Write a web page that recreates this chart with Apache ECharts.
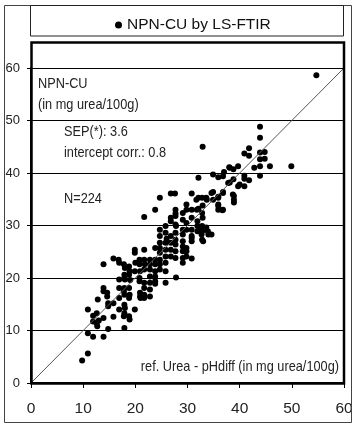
<!DOCTYPE html>
<html>
<head>
<meta charset="utf-8">
<script src="https://cdn.jsdelivr.net/npm/echarts@6/dist/echarts.min.js"></script>
<style>
html,body{margin:0;padding:0;background:#fff;}
#c{width:357px;height:430px;}
</style>
</head>
<body>
<div id="c"></div>
<script>
// ---- data ----
const seriesName = 'NPN-CU by LS-FTIR';
const xTickValues = [0, 10, 20, 30, 40, 50, 60];
const yTickValues = [0, 10, 20, 30, 40, 50, 60];
const identityLine = [[0, 0], [60, 60]];

// reference: Urea - pHdiff (mg urea/100g)
const refUrea = [
  9.8,10.9,10.9,10.9,11.9,11.9,11.9,12.8,12.6,12.7,12.6,13.0,
  13.9,13.9,13.9,13.9,13.9,14.6,14.6,14.8,14.8,14.8,15.8,15.8,15.8,
  16.8,16.9,16.9,16.9,16.9,16.9,
  17.8,18.0,17.9,17.9,18.0,17.9,17.8,17.9,17.9,18.0,17.9,17.8,17.9,
  18.8,18.9,18.8,18.8,18.9,18.8,18.8,18.9,19.0,
  19.9,19.9,20.0,19.9,19.9,
  20.8,20.8,20.9,20.8,20.8,20.9,20.9,21.0,
  21.7,21.7,21.7,21.8,21.7,21.7,21.7,21.7,21.7,
  22.8,22.8,22.8,22.8,22.8,22.8,22.8,
  23.8,23.8,23.8,23.8,23.8,23.8,23.8,23.8,
  24.7,24.7,24.7,24.7,24.7,24.7,24.7,24.7,24.7,
  25.8,25.8,25.8,25.8,25.8,25.8,25.8,25.8,26.0,
  26.8,26.8,26.8,26.8,26.8,26.8,26.8,
  27.6,27.7,27.7,27.7,27.7,27.8,27.7,27.7,27.7,27.7,27.7,27.8,
  29.1,29.1,29.1,29.1,29.1,29.1,29.1,29.1,29.1,
  29.8,29.8,29.8,29.8,29.8,29.8,29.8,
  30.8,30.8,30.8,30.8,30.8,30.8,30.8,30.8,
  31.7,31.8,31.9,31.9,31.9,
  32.1,32.1,32.1,
  32.9,32.8,32.9,32.8,32.9,32.8,32.8,32.8,32.7,32.7,33.0,
  33.7,33.6,33.9,34.0,33.6,
  34.6,34.6,34.9,34.9,34.9,
  35.9,35.9,35.9,35.9,35.9,35.9,
  36.7,36.8,37.0,36.8,36.8,36.8,
  37.8,38.0,38.1,38.1,
  38.8,38.8,38.9,38.9,38.9,38.7,
  39.7,39.7,40.0,
  40.9,40.9,40.9,40.9,41.8,41.8,41.8,42.8,
  43.9,43.9,43.9,43.9,43.9,43.9,44.8,44.8,45.8,49.9,54.7
];
// LS-FTIR prediction (mg urea/100g)
const lsFtir = [
  4.3,5.6,14.0,9.5,8.8,12.8,11.7,15.9,11.4,10.8,13.3,11.9,
  22.6,18.1,17.5,12.4,8.8,17.2,16.5,15.2,14.6,10.3,23.7,15.2,12.6,
  23.5,22.9,19.7,18.1,16.2,14.0,
  22.6,21.9,20.6,20.0,19.7,18.1,17.5,16.8,14.9,14.3,13.3,12.7,10.5,
  22.2,21.3,20.6,18.1,16.8,16.2,12.7,12.1,19.6,
  25.4,24.8,22.9,21.3,14.0,
  23.5,22.6,21.3,20.0,19.4,17.2,16.5,16.2,
  31.6,25.4,23.5,22.6,21.6,19.1,18.1,16.8,16.2,
  23.5,22.6,21.6,20.3,19.1,17.8,16.5,
  33.0,25.7,23.5,22.6,21.3,20.3,19.4,18.9,
  35.3,29.2,28.0,26.7,25.7,24.8,23.5,22.6,21.6,
  29.9,28.6,26.7,25.4,24.1,22.9,21.3,19.1,27.5,
  36.1,31.5,30.8,28.0,26.7,25.4,24.1,
  36.1,33.0,32.3,31.8,30.2,29.9,28.6,27.3,26.4,25.1,23.8,20.1,
  32.4,31.1,29.2,28.3,27.0,26.0,25.1,23.8,22.9,
  34.0,33.0,30.5,29.2,25.7,25.1,24.1,
  36.1,33.0,31.5,29.2,28.0,27.0,27.6,23.7,
  34.9,33.0,30.8,29.9,28.9,
  39.1,35.3,33.2,
  45.0,35.3,33.8,32.4,31.5,29.9,28.9,27.3,29.6,28.3,27.0,
  34.9,35.3,28.9,28.3,29.6,
  36.2,28.3,39.7,36.4,34.9,
  39.2,35.5,33.7,35.3,34.0,33.0,
  32.9,36.4,40.2,39.4,33.0,36.2,
  38.1,41.1,41.0,38.2,
  40.7,38.8,35.6,34.9,34.4,35.9,
  41.3,37.5,37.8,
  43.7,39.5,38.9,37.5,44.7,43.3,38.6,41.0,
  48.8,46.7,43.9,42.6,41.3,39.5,44.0,42.7,41.3,41.3,58.6
];

const noteLines = [
  { text: 'NPN-CU', x: 38, y: 84 },
  { text: '(in mg urea/100g)', x: 38, y: 104.5 },
  { text: 'SEP(*): 3.6', x: 64, y: 131.5 },
  { text: 'intercept corr.: 0.8', x: 64, y: 153 },
  { text: 'N=224', x: 64, y: 199 }
];
const axisNote = 'ref. Urea - pHdiff (in mg urea/100g)';

// ---- chart ----
const points = refUrea.map((x, i) => [x, lsFtir[i]]);
const fontFam = '"Liberation Sans", Arial, Helvetica, sans-serif';

function noteEl(text, x, y, align) {
  return {
    type: 'text', x: x, y: y, scaleX: 0.85, z: 20,
    style: {
      text: text, font: '15px ' + fontFam, fill: '#222',
      align: align || 'left', verticalAlign: 'middle',
      textAlign: align || 'left', textVerticalAlign: 'middle'
    }
  };
}

const graphics = [
  { type: 'rect', z: 1, shape: { x: 4.5, y: 5.5, width: 347, height: 417 }, style: { fill: 'none', stroke: '#444', lineWidth: 1 } },
  { type: 'rect', z: 1, shape: { x: 30.5, y: 5.5, width: 313, height: 30.5 }, style: { fill: 'none', stroke: '#222', lineWidth: 1 } },
  { type: 'rect', z: 30, shape: { x: 31.5, y: 42.5, width: 312.5, height: 341 }, style: { fill: 'none', stroke: '#000', lineWidth: 2.5 } }
];
noteLines.forEach(n => graphics.push(noteEl(n.text, n.x, n.y, 'left')));
graphics.push(noteEl(axisNote, 339, 367, 'right'));

const chart = echarts.init(document.getElementById('c'));
chart.setOption({
  animation: false,
  backgroundColor: '#fff',
  legend: {
    data: [{ name: seriesName, icon: 'circle' }],
    left: 110, top: 12,
    itemWidth: 7, itemHeight: 7,
    selectedMode: false,
    textStyle: { fontFamily: fontFam, fontSize: 15.5, color: '#111' }
  },
  grid: { left: 31, right: 13, top: 68, bottom: 47, containLabel: false },
  xAxis: {
    type: 'value', min: xTickValues[0], max: xTickValues[xTickValues.length - 1], interval: 10,
    axisLine: { show: true, onZero: false, lineStyle: { color: '#000', width: 2 } },
    axisTick: { show: true, length: 5, lineStyle: { color: '#000', width: 1 } },
    axisLabel: { fontSize: 15.5, fontFamily: fontFam, color: '#222', margin: 18 },
    splitLine: { show: false }
  },
  yAxis: {
    type: 'value', min: yTickValues[0], max: yTickValues[yTickValues.length - 1], interval: 10,
    axisLine: { show: true, onZero: false, lineStyle: { color: '#000', width: 2 } },
    axisTick: { show: true, length: 4, lineStyle: { color: '#000', width: 1 } },
    axisLabel: { fontSize: 13, fontFamily: fontFam, color: '#222', margin: 11 },
    splitLine: { show: true, lineStyle: { color: '#000', width: 1 } }
  },
  series: [
    {
      name: 'identity', type: 'line', data: identityLine, symbol: 'none', silent: true,
      lineStyle: { color: '#555', width: 1 }, z: 3
    },
    {
      name: seriesName, type: 'scatter', data: points, symbol: 'circle', symbolSize: 6,
      itemStyle: { color: '#000', opacity: 1 }, z: 2
    }
  ],
  graphic: graphics
});
</script>
</body>
</html>
